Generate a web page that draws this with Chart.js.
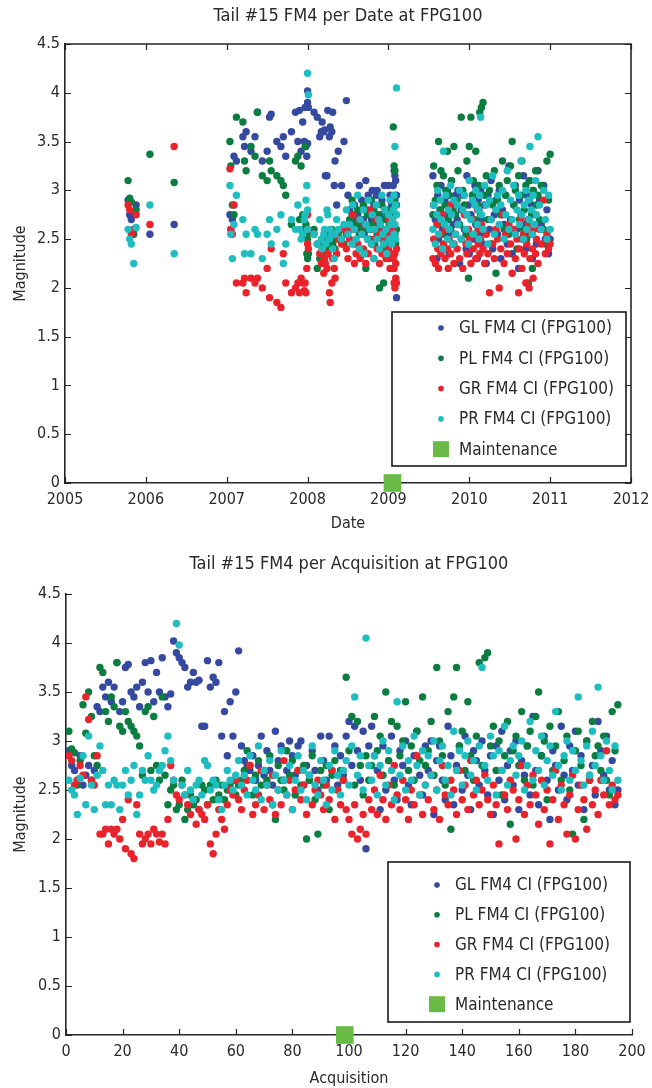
<!DOCTYPE html>
<html>
<head>
<meta charset="utf-8">
<script src="https://cdn.jsdelivr.net/npm/chart.js@4.4.1/dist/chart.umd.min.js"></script>
<style>
  body { margin: 0; background: #fff; }
  .box { position: relative; width: 652px; }
</style>
</head>
<body>
<div class="box" style="height:540px"><canvas id="dateChart"></canvas></div>
<div class="box" style="height:548px"><canvas id="acqChart"></canvas></div>
<script>
// acquisition dates (decimal year), one per acquisition 1..195
const acqDates = [
  2005.78, 2005.80, 2005.82, 2005.85, 2005.88, 2006.05, 2006.35,
  2007.04, 2007.05, 2007.07,
  2007.09, 2007.12, 2007.20, 2007.22, 2007.24, 2007.30, 2007.35, 2007.38, 2007.44, 2007.50,
  2007.53, 2007.55, 2007.62, 2007.67, 2007.70, 2007.73, 2007.80, 2007.85, 2007.88, 2007.90,
  2007.92, 2007.94, 2007.96, 2007.97, 2007.98, 2007.99, 2008.00, 2008.00, 2008.00, 2008.01,
  2008.08, 2008.12, 2008.15, 2008.17, 2008.18, 2008.20, 2008.21, 2008.22, 2008.24, 2008.25,
  2008.27, 2008.28, 2008.30, 2008.31, 2008.33, 2008.34, 2008.36, 2008.38, 2008.42, 2008.45,
  2008.48, 2008.50, 2008.52, 2008.55, 2008.56, 2008.58, 2008.60, 2008.62, 2008.64, 2008.65,
  2008.67, 2008.69, 2008.70, 2008.72, 2008.74, 2008.75, 2008.77, 2008.79, 2008.80, 2008.82,
  2008.83, 2008.85, 2008.86, 2008.88, 2008.89, 2008.90, 2008.92, 2008.93, 2008.94, 2008.95,
  2008.97, 2008.98, 2009.00, 2009.01, 2009.02, 2009.03, 2009.04, 2009.05,
  2009.06, 2009.07, 2009.07, 2009.08, 2009.08, 2009.09, 2009.09, 2009.10, 2009.10,
  2009.55, 2009.56, 2009.58, 2009.60, 2009.61, 2009.62, 2009.64, 2009.65, 2009.67, 2009.68,
  2009.70, 2009.71, 2009.73, 2009.74, 2009.75, 2009.77, 2009.78, 2009.80, 2009.81, 2009.83,
  2009.85, 2009.86, 2009.88, 2009.90, 2009.92, 2009.94, 2009.96, 2009.97, 2009.99, 2010.00,
  2010.02, 2010.04, 2010.05, 2010.07, 2010.08, 2010.10, 2010.11, 2010.12, 2010.13, 2010.14,
  2010.15, 2010.17, 2010.19, 2010.21, 2010.23, 2010.25, 2010.27, 2010.29, 2010.31, 2010.33,
  2010.35, 2010.37, 2010.39, 2010.41, 2010.43, 2010.45, 2010.47, 2010.49, 2010.51, 2010.53,
  2010.55, 2010.57, 2010.59, 2010.61, 2010.62, 2010.64, 2010.65, 2010.67, 2010.68, 2010.70,
  2010.71, 2010.73, 2010.74, 2010.75, 2010.77, 2010.78, 2010.79, 2010.80, 2010.82, 2010.83,
  2010.85, 2010.87, 2010.89, 2010.92, 2010.94, 2010.96, 2010.98, 2011.00
];

const glValues = [
  2.90, 2.75, 2.70, 2.60, 2.85, 2.55, 2.65,
  2.75, 2.60, 2.70,
  3.35, 3.30, 3.55, 3.45, 3.60, 3.40, 3.55, 3.80, 3.30, 3.40,
  3.75, 3.78, 3.50, 3.45, 3.55, 3.35, 3.60, 3.80, 3.50, 3.82,
  3.40, 3.70, 3.50, 3.85, 3.45, 3.35, 3.48, 4.02, 3.90, 3.85,
  3.80, 3.75, 3.55, 3.60, 3.70, 3.60, 3.62, 3.15, 3.15, 3.82,
  3.55, 3.65, 3.60, 3.80, 3.05, 3.30, 2.85, 3.40, 3.05, 3.50,
  3.92, 2.95, 2.80, 2.75, 2.70, 2.85, 2.60, 2.75, 3.05, 2.65,
  2.90, 2.70, 2.55, 3.10, 2.80, 2.95, 2.60, 2.70, 3.00, 2.85,
  2.65, 2.95, 3.00, 2.55, 2.75, 2.60, 2.90, 2.70, 2.50, 3.05,
  2.80, 2.60, 3.05, 2.70, 2.95, 2.55, 2.85, 2.65,
  3.05, 3.20, 2.75, 3.15, 2.90, 2.60, 3.10, 1.90, 2.95,
  3.15, 2.85, 2.70, 2.30, 2.95, 2.50, 2.80, 3.05, 2.60, 2.40,
  2.90, 2.75, 3.00, 2.55, 2.35, 2.85, 3.10, 2.65, 2.45, 2.95,
  2.70, 3.00, 2.25, 2.80, 2.95, 2.60, 2.40, 3.15, 2.85, 2.35,
  2.75, 2.95, 2.50, 3.05, 2.65, 2.30, 2.90, 2.80, 2.55, 3.00,
  2.70, 2.45, 2.85, 2.25, 2.95, 2.60, 3.10, 2.40, 2.75, 2.90,
  2.55, 3.00, 2.30, 2.80, 2.65, 2.95, 2.45, 3.25, 2.70, 2.35,
  2.85, 3.05, 2.60, 2.20, 2.90, 2.75, 2.50, 3.15, 2.65, 2.40,
  2.95, 2.70, 3.10, 2.55, 2.85, 2.30, 3.00, 2.60, 2.75, 2.45,
  3.20, 2.90, 2.65, 3.05, 2.50, 2.80, 2.35, 2.50
];

const plValues = [
  3.10, 2.92, 2.88, 2.55, 2.80, 3.37, 3.08,
  3.50, 3.25, 2.85,
  2.75, 3.75, 3.70, 3.30, 3.20, 3.45, 3.35, 3.80, 3.15, 3.10,
  3.30, 3.20, 3.15, 3.10, 3.05, 2.95, 2.65, 3.30, 3.35, 2.70,
  3.25, 2.75, 2.60, 3.45, 2.65, 2.35, 2.50, 2.55, 2.30, 2.35,
  2.60, 2.20, 2.30, 2.45, 2.35, 2.40, 2.30, 2.55, 2.50, 2.35,
  2.55, 2.40, 2.60, 2.45, 2.55, 2.40, 2.50, 2.55, 2.60, 2.45,
  2.55, 2.60, 2.70, 2.90, 2.75, 2.45, 2.65, 2.80, 2.55, 2.70,
  2.60, 2.85, 2.35, 2.20, 2.75, 2.60, 2.50, 2.90, 2.65, 2.80,
  2.45, 2.70, 2.55, 2.75, 2.00, 2.60, 2.85, 2.40, 2.05, 2.70,
  2.55, 2.75, 2.30, 2.65, 2.80, 2.50, 2.70, 2.60,
  3.65, 2.90, 3.25, 2.55, 3.20, 2.75, 2.45, 2.85, 2.60,
  2.75, 3.25, 2.90, 3.05, 2.65, 3.50, 2.80, 3.20, 2.55, 3.15,
  2.85, 3.00, 3.40, 2.70, 2.95, 2.60, 3.10, 2.80, 3.45, 2.75,
  2.90, 3.20, 2.65, 3.75, 3.00, 2.85, 2.55, 3.30, 2.10, 3.45,
  3.75, 2.95, 3.10, 2.70, 3.40, 2.85, 2.60, 3.05, 3.80, 2.75,
  3.85, 3.90, 2.95, 3.15, 2.70, 3.00, 2.45, 2.85, 3.20, 2.15,
  2.90, 3.05, 2.75, 3.30, 2.60, 2.95, 3.10, 2.55, 3.25, 3.50,
  2.85, 3.00, 2.40, 3.15, 2.70, 2.95, 3.30, 2.60, 2.80, 3.05,
  2.50, 2.05, 2.90, 3.10, 2.75, 2.20, 3.00, 2.65, 3.20, 2.85,
  2.95, 2.70, 3.05, 2.60, 2.45, 3.30, 2.90, 3.37
];

const grValues = [
  2.85, 2.80, 2.55, 2.60, 2.75, 2.65, 3.45,
  3.22, 2.60, 2.55,
  2.85, 2.05, 2.05, 2.10, 1.95, 2.10, 2.05, 2.10, 2.00, 2.20,
  1.90, 2.40, 1.85, 1.80, 2.35, 2.05, 1.95, 2.00, 2.05, 1.95,
  2.10, 2.05, 1.97, 2.05, 1.95, 2.20, 2.75, 2.60, 2.45, 2.40,
  2.55, 2.45, 2.35, 2.25, 2.40, 2.15, 2.30, 2.25, 2.20, 2.35,
  1.95, 1.85, 2.05, 2.30, 2.20, 2.10, 2.35, 2.50, 2.45, 2.60,
  2.40, 2.30, 2.50, 2.60, 2.75, 2.25, 2.35, 2.45, 2.70, 2.30,
  2.55, 2.40, 2.65, 2.25, 2.50, 2.35, 2.80, 2.45, 2.60, 2.30,
  2.50, 2.70, 2.40, 2.55, 2.25, 2.65, 2.35, 2.50, 2.60, 2.45,
  2.30, 2.55, 2.40, 2.70, 2.20, 2.50, 2.35, 2.60,
  2.30, 2.20, 2.05, 2.35, 2.00, 2.10, 2.25, 2.05, 2.40,
  2.30, 2.50, 2.25, 2.65, 2.40, 2.20, 2.55, 2.35, 2.75, 2.45,
  2.30, 2.60, 2.40, 2.20, 2.50, 2.35, 2.85, 2.45, 2.25, 2.55,
  2.40, 2.65, 2.30, 2.50, 2.20, 2.75, 2.45, 2.35, 2.60, 2.50,
  2.25, 2.70, 2.40, 2.55, 2.30, 2.80, 2.45, 2.60, 2.35, 2.50,
  2.65, 2.40, 2.25, 2.55, 2.35, 1.95, 2.70, 2.45, 2.30, 2.60,
  2.50, 2.00, 2.40, 2.75, 2.25, 2.55, 2.35, 2.65, 2.45, 2.15,
  2.60, 2.30, 2.50, 1.95, 2.40, 2.70, 2.20, 2.55, 2.35, 2.05,
  2.45, 2.65, 2.00, 2.30, 2.55, 2.40, 2.10, 2.60, 2.35, 2.50,
  2.25, 2.60, 2.45, 2.90, 2.35, 2.55, 2.40, 2.45
];

const prValues = [
  2.60, 2.50, 2.45, 2.25, 2.62, 2.85, 2.35,
  3.05, 2.55, 2.30,
  2.65, 2.95, 2.70, 2.35, 2.55, 2.35, 2.60, 2.55, 2.30, 2.55,
  2.70, 2.45, 2.60, 2.75, 2.25, 2.45, 2.70, 2.60, 2.85, 2.60,
  2.50, 2.55, 2.70, 2.75, 2.90, 3.05, 2.80, 2.60, 4.20, 3.98,
  2.55, 2.45, 2.70, 2.50, 2.40, 2.55, 2.60, 2.45, 2.80, 2.75,
  2.50, 2.60, 2.55, 2.40, 2.30, 2.55, 2.70, 2.60, 2.50, 2.65,
  2.80, 2.55, 2.65, 2.45, 2.85, 2.60, 2.50, 2.95, 2.40, 2.70,
  2.55, 2.80, 2.35, 2.65, 2.50, 2.90, 2.60, 2.45, 2.75, 2.30,
  2.60, 2.85, 2.50, 2.70, 2.40, 2.65, 2.95, 2.55, 2.45, 2.80,
  2.60, 2.35, 2.75, 2.50, 2.90, 2.65, 2.45, 2.70,
  2.80, 2.55, 2.95, 3.45, 2.65, 2.85, 2.50, 4.05, 2.75,
  2.60, 2.85, 2.45, 2.75, 3.00, 2.55, 2.90, 2.70, 2.40, 3.40,
  2.65, 2.95, 2.50, 2.80, 2.60, 3.05, 2.75, 2.45, 2.90, 2.55,
  2.85, 2.65, 3.00, 2.50, 2.80, 2.95, 2.60, 2.75, 2.45, 3.10,
  2.70, 2.90, 2.55, 2.85, 3.00, 2.65, 2.80, 2.50, 2.95, 3.75,
  2.75, 2.60, 3.05, 2.85, 2.45, 2.90, 2.70, 3.15, 2.55, 2.80,
  2.95, 2.65, 2.85, 3.00, 2.50, 2.75, 3.20, 2.60, 2.90, 2.70,
  3.05, 2.55, 2.80, 2.95, 2.65, 3.30, 2.75, 2.50, 2.85, 3.00,
  2.60, 2.90, 2.70, 3.45, 2.80, 2.55, 2.95, 2.65, 3.10, 2.75,
  3.55, 2.85, 2.60, 3.00, 2.70, 2.50, 2.95, 2.60
];

const maintenanceDate = [2009.05];
const maintenanceAcq = [98.5];

const seriesLabels = ['GL FM4 CI (FPG100)', 'PL FM4 CI (FPG100)', 'GR FM4 CI (FPG100)', 'PR FM4 CI (FPG100)'];
const seriesColors = ['#34499f', '#0b7d40', '#e8232c', '#1dbdc0'];
const maintColor = '#6abb45';
const yTicks = [0, 0.5, 1, 1.5, 2, 2.5, 3, 3.5, 4, 4.5];

const FONT = "'Liberation Sans Narrow', 'Arial Narrow', 'DejaVu Sans Condensed', sans-serif";
const TEXT = '#2a2a2a';

// ticks pointing inward + optional full box
const framePlugin = {
  id: 'frame',
  beforeDatasetsDraw(chart, args, opts) {
    const { ctx, chartArea: a } = chart;
    const xs = chart.scales.x, ys = chart.scales.y;
    ctx.save();
    ctx.strokeStyle = '#262626';
    ctx.lineWidth = 1.2;
    ctx.beginPath();
    xs.ticks.forEach(t => {
      const px = Math.round(xs.getPixelForValue(t.value)) + 0.5;
      ctx.moveTo(px, a.bottom); ctx.lineTo(px, a.bottom - 6);
      if (opts.box) { ctx.moveTo(px, a.top); ctx.lineTo(px, a.top + 6); }
    });
    ys.ticks.forEach(t => {
      const py = Math.round(ys.getPixelForValue(t.value)) + 0.5;
      ctx.moveTo(a.left, py); ctx.lineTo(a.left + 6, py);
      if (opts.box) { ctx.moveTo(a.right, py); ctx.lineTo(a.right - 6, py); }
    });
    ctx.stroke();
    if (opts.box) {
      ctx.lineWidth = 1.6;
      ctx.beginPath();
      ctx.moveTo(a.left, a.top); ctx.lineTo(a.right, a.top); ctx.lineTo(a.right, a.bottom);
      ctx.stroke();
    }
    ctx.restore();
  }
};

// legend box drawn inside the plot, lower right
const boxLegend = {
  id: 'boxLegend',
  afterDraw(chart, args, opts) {
    const { ctx, chartArea: a } = chart;
    const w = opts.width, h = opts.height;
    const left = a.right - opts.right - w, top = a.bottom - opts.bottom - h;
    ctx.save();
    ctx.fillStyle = '#fff';
    ctx.fillRect(left, top, w, h);
    ctx.strokeStyle = '#1a1a1a';
    ctx.lineWidth = 1.6;
    ctx.strokeRect(left, top, w, h);
    ctx.font = '17px ' + FONT;
    ctx.textBaseline = 'middle';
    chart.data.datasets.forEach((ds, i) => {
      const cy = top + opts.first + i * opts.step;
      const mx = left + 49;
      ctx.fillStyle = ds.backgroundColor;
      if (ds.pointStyle === 'rect') {
        ctx.fillRect(mx - 8, cy - 8, 16, 16);
      } else {
        ctx.beginPath(); ctx.arc(mx, cy, 2.8, 0, Math.PI * 2); ctx.fill();
      }
      ctx.fillStyle = TEXT;
      ctx.fillText(ds.label, left + 67, cy + 1);
    });
    ctx.restore();
  }
};

function buildDatasets(xValues, maintX) {
  const sets = [glValues, plValues, grValues, prValues].map((vals, s) => ({
    label: seriesLabels[s],
    data: vals.map((v, i) => ({ x: xValues[i], y: v })),
    backgroundColor: seriesColors[s],
    borderWidth: 0,
    pointRadius: 3.7,
    pointHoverRadius: 3.7,
    order: 4 - s
  }));
  sets.push({
    label: 'Maintenance',
    data: maintX.map(x => ({ x: x, y: 0 })),
    backgroundColor: maintColor,
    borderWidth: 0,
    pointStyle: 'rect',
    pointRadius: 12.5,
    pointHoverRadius: 12.5,
    clip: false,
    order: 0
  });
  return sets;
}

function makeChart(id, cfg) {
  return new Chart(document.getElementById(id), {
    type: 'scatter',
    data: { datasets: cfg.datasets },
    options: {
      responsive: true,
      maintainAspectRatio: false,
      animation: false,
      events: [],
      layout: { padding: { left: 0, right: cfg.padRight, top: 0, bottom: 0 } },
      plugins: {
        legend: { display: false },
        tooltip: { enabled: false },
        title: {
          display: true,
          text: cfg.title,
          color: TEXT,
          font: { family: FONT, size: 18, weight: 'normal' },
          padding: cfg.titlePad,
          fullSize: false
        },
        frame: { box: cfg.box },
        boxLegend: cfg.legend
      },
      scales: {
        x: {
          type: 'linear',
          min: cfg.xMin, max: cfg.xMax,
          afterFit: s => { s.height = cfg.xHeight; s.paddingLeft = 0; s.paddingRight = 0; },
          afterBuildTicks: s => { s.ticks = cfg.xTicks.map(v => ({ value: v })); },
          grid: { display: false, drawTicks: false },
          border: { display: true, color: '#262626', width: 1.6 },
          ticks: { color: TEXT, font: { family: FONT, size: 16 }, padding: 7, maxRotation: 0,
                   callback: v => String(v) },
          title: { display: true, text: cfg.xTitle, color: TEXT,
                   font: { family: FONT, size: 16 }, padding: { top: 0, bottom: cfg.xTitlePad } }
        },
        y: {
          type: 'linear',
          min: 0, max: 4.5,
          afterFit: s => { s.width = cfg.yWidth; },
          afterBuildTicks: s => { s.ticks = yTicks.map(v => ({ value: v })); },
          grid: { display: false, drawTicks: false },
          border: { display: true, color: '#262626', width: 1.6 },
          ticks: { color: TEXT, font: { family: FONT, size: 16 }, padding: 5,
                   callback: v => String(v) },
          title: { display: true, text: 'Magnitude', color: TEXT,
                   font: { family: FONT, size: 16 }, padding: { top: 11, bottom: 0 } }
        }
      }
    },
    plugins: [framePlugin, boxLegend]
  });
}

makeChart('dateChart', {
  datasets: buildDatasets(acqDates, maintenanceDate),
  title: 'Tail #15 FM4 per Date at FPG100',
  titlePad: { top: 6, bottom: 16.4 },
  padRight: 21,
  xMin: 2005, xMax: 2012,
  xTicks: [2005, 2006, 2007, 2008, 2009, 2010, 2011, 2012],
  xTitle: 'Date',
  xHeight: 57,
  xTitlePad: 7,
  yWidth: 65,
  box: true,
  legend: { width: 234, height: 154, right: 5, bottom: 17, first: 16, step: 30.3 }
});

makeChart('acqChart', {
  datasets: buildDatasets(glValues.map((v, i) => i + 1), maintenanceAcq),
  title: 'Tail #15 FM4 per Acquisition at FPG100',
  titlePad: { top: 14, bottom: 18.4 },
  padRight: 20,
  xMin: 0, xMax: 200,
  xTicks: [0, 20, 40, 60, 80, 100, 120, 140, 160, 180, 200],
  xTitle: 'Acquisition',
  xHeight: 53,
  xTitlePad: 0,
  yWidth: 66,
  box: false,
  legend: { width: 242, height: 160, right: 2, bottom: 13, first: 23, step: 29.8 }
});
</script>
</body>
</html>
